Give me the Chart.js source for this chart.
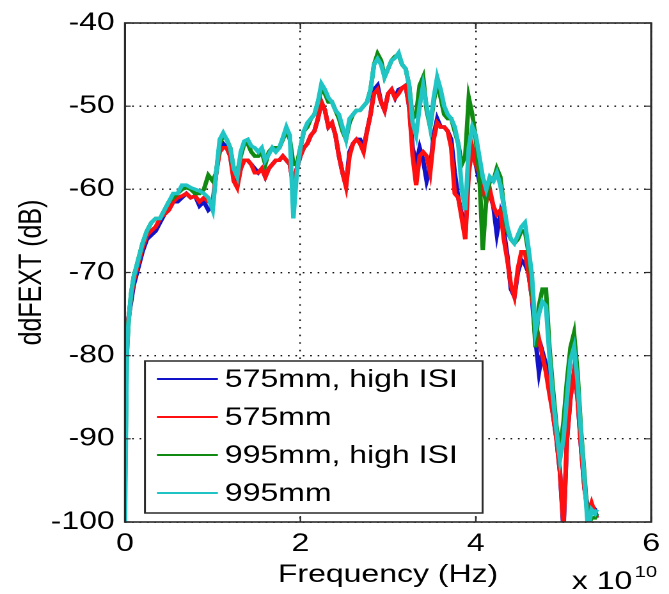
<!DOCTYPE html>
<html>
<head>
<meta charset="utf-8">
<script src="https://cdn.jsdelivr.net/npm/chart.js@4.4.0/dist/chart.umd.min.js"></script>
<style>
  html, body { margin: 0; padding: 0; background: #fff; overflow: hidden; }
  /* the source picture is stretched sideways, so the whole chart is too */
  #wrap { width: 523px; height: 594px; transform: scaleX(1.2792); transform-origin: 0 0; }
</style>
</head>
<body>
<div id="wrap"><canvas id="chart" width="523" height="594"></canvas></div>
<script>
// frequency, in units of 1e10 Hz
const freq = [0, 0.01, 0.02, 0.04, 0.07, 0.1, 0.15, 0.2, 0.25, 0.3, 0.35, 0.4, 0.45, 0.5, 0.55, 0.6, 0.65, 0.7, 0.75, 0.8, 0.85, 0.9, 0.95, 1.0,
  1.04, 1.08, 1.12, 1.16, 1.2, 1.24, 1.28, 1.32, 1.36, 1.4, 1.44, 1.48, 1.52, 1.56, 1.6, 1.64, 1.68, 1.72, 1.76, 1.8, 1.84, 1.88, 1.92, 1.96,
  2.0, 2.04, 2.08, 2.12, 2.16, 2.2, 2.24, 2.28, 2.32, 2.36, 2.4, 2.44, 2.48, 2.52, 2.56, 2.6, 2.64, 2.68, 2.72, 2.76, 2.8, 2.84, 2.88, 2.92, 2.96,
  3.0, 3.04, 3.08, 3.12, 3.16, 3.2, 3.24, 3.28, 3.32, 3.36, 3.4, 3.44, 3.48, 3.52, 3.56, 3.6, 3.64, 3.68, 3.72, 3.76, 3.8, 3.84, 3.88, 3.92, 3.96,
  4.0, 4.04, 4.08, 4.12, 4.16, 4.2, 4.24, 4.28, 4.32, 4.36, 4.4, 4.44, 4.48, 4.52, 4.56, 4.6, 4.64, 4.68, 4.72, 4.76, 4.8, 4.84, 4.88, 4.92, 4.96,
  5.0, 5.04, 5.08, 5.12, 5.16, 5.2, 5.24, 5.28, 5.32, 5.36, 5.38];

// ddFEXT in dB
const fext575Isi = [-78, -77, -76.5, -75.5, -73.5, -71.5, -69.5, -67.5, -66, -65.5, -65, -64, -63, -62.5, -61.5, -61.5, -61, -60.5, -61, -60.8, -62, -61.5, -62.5, -62,
  -58, -55, -54.5, -55, -56, -58.5, -59.5, -57.5, -56.5, -56.5, -57, -57.5, -58, -57.5, -58.5, -57.5, -57, -56.5, -56.5, -56, -56.5, -57, -59.5, -57.5,
  -56, -55, -54.5, -53.5, -53, -51.5, -49.5, -50.5, -52.5, -52, -53.5, -56, -58, -59.5, -55.5, -54.5, -54, -54, -55, -53, -51, -48, -47.5, -49.5, -50.5,
  -48.5, -48, -49, -48, -47.8, -47.5, -50, -55, -57, -55, -56.5, -59, -57.5, -53.5, -51.5, -52.5, -52.5, -53, -54, -58, -61, -63, -65.5, -57, -55.5,
  -57, -59, -60.5, -61, -60.5, -62, -65.4, -63, -65, -68, -72, -72.9, -70, -68.5, -69, -70, -73, -78, -82, -79.5, -81, -84, -87, -90, -94,
  -101, -90, -85, -82, -85, -91, -96, -98.5, -98, -98.5, -99.5];
const fext575 = [-86, -80, -77.5, -75.5, -73, -71, -69, -67, -65.5, -65, -64.5, -63.5, -63, -62.5, -61.5, -61, -60.8, -60.5, -61, -60.8, -61.5, -61, -61.5, -61.5,
  -58, -55.5, -55, -55, -56, -59, -59.8, -57.5, -56.5, -56.5, -57, -58, -58, -57.5, -58.5, -57.5, -57, -56.5, -56.5, -56, -56.5, -57, -59.5, -57.5,
  -56, -55, -54.5, -53.5, -53, -51.5, -49.5, -50.5, -52.5, -52, -53.5, -56, -58, -59.7, -56, -54.5, -54, -54.5, -55.5, -53, -51, -48.5, -48, -49.5, -50.5,
  -48.5, -48, -49, -48.5, -47.8, -47.5, -50, -56, -59.5, -56, -55.5, -56, -58, -54, -52, -52.5, -52.5, -53, -55, -60.5, -61, -63.5, -66, -58, -55,
  -57, -58, -60, -61.5, -60, -62, -63, -62.5, -66, -68.5, -71.5, -72.9, -69.5, -67.5, -67.5, -70, -73, -76, -78, -80, -82, -84.6, -87, -90, -94,
  -100.5, -90, -85, -82, -85, -91, -96, -99, -97.7, -99, -99.5];
const fext995Isi = [-96, -88, -80, -76, -72.5, -70.5, -68.5, -66.5, -65, -64, -63.5, -63.5, -62.5, -61.5, -61, -60.5, -60, -59.8, -60, -60.5, -60.5, -60, -58.3, -59,
  -58, -54.5, -53.5, -54, -55, -57.5, -58, -56, -54.5, -54.5, -55.5, -56, -56, -55.5, -57, -55.5, -55, -55, -55, -54, -53, -54, -57, -57,
  -55, -53, -52.5, -51.5, -51, -49.5, -48, -48.5, -49.5, -49.5, -50.5, -51.5, -53, -54, -52, -51, -50.5, -50.5, -50, -49.5, -48, -45, -43.7, -44.5, -46.5,
  -45.5, -44.5, -44, -43.8, -45, -45.5, -47.5, -51.5, -51, -47.5, -46.5, -50.5, -52.5, -49.5, -47, -49, -51, -51.5, -51.5, -53, -54.5, -57, -56, -49, -51,
  -54, -58, -67.3, -61, -59, -59, -57.5, -58.5, -62, -65, -66, -66.5, -66, -65, -65, -67.5, -71, -79, -74, -72, -72, -79, -84, -88.5, -91.5,
  -88, -83, -79, -77.3, -82, -89, -94.5, -100.5, -99.5, -99.5, -99];
const fext995 = [-100, -90, -80, -76, -72.5, -70.5, -68.5, -66.5, -65, -64, -63.5, -63.5, -62.5, -61.5, -60.5, -60.5, -59.5, -59.5, -59.8, -60, -60.2, -60.5, -61, -62.5,
  -58, -54, -53.2, -54, -55, -57.5, -58.5, -55.5, -54.2, -54, -54.8, -55, -55.5, -55, -56.5, -55.8, -55, -55.5, -55, -53.8, -52.5, -53.5, -63.5, -58,
  -55, -53, -52, -51.5, -51, -49.5, -47.3, -48, -49, -49.5, -50.5, -51, -52.5, -54, -51.5, -51, -50.5, -50.5, -50, -49.5, -48, -45, -44.3, -45, -46.5,
  -45.5, -44.5, -44.2, -43.6, -45, -45.5, -47.5, -52, -53.5, -50, -47.5, -50, -52.5, -49, -46.5, -48, -50, -51, -51.5, -52.5, -54.5, -60, -62.5, -55, -52.5,
  -53.5, -56, -58.5, -60, -58.5, -59, -58, -59.5, -62, -64.5, -66, -66.5, -65.5, -64.5, -64, -67, -70.3, -77, -75, -73.5, -74, -80, -85, -89, -92.5,
  -90, -85, -80.5, -79, -83, -89.4, -95, -101, -98.5, -99, -98.5];

const seriesLabels = ['575mm, high ISI', '575mm', '995mm, high ISI', '995mm'];
const seriesColors = ['#1212c8', '#ff1010', '#108a10', '#20c4c4'];
const xTicks = [0, 2, 4, 6];
const yTicks = [-100, -90, -80, -70, -60, -50, -40];

const FONT = 'Liberation Sans, Arial, Helvetica, sans-serif';
Chart.defaults.font.family = FONT;
Chart.defaults.font.size = 25;
Chart.defaults.color = '#000';

function toPoints(values) {
  return values.map(function (v, i) { return { x: freq[i], y: v }; });
}

const datasets = [fext575Isi, fext575, fext995Isi, fext995].map(function (vals, i) {
  return {
    label: seriesLabels[i],
    data: toPoints(vals),
    borderColor: seriesColors[i],
    backgroundColor: seriesColors[i],
    borderWidth: 3.5,
    pointRadius: 0,
    tension: 0,
    fill: false,
    order: 3 - i   // later series painted over earlier ones, like plot()
  };
});

/* ------------------------------------------------------ */
// box, inward tick marks and the "x 10^10" note, matlab style
const matlabFrame = {
  id: 'matlabFrame',
  afterDatasetsDraw(chart) {
    const ctx = chart.ctx;
    const a = chart.chartArea;
    const x = chart.scales.x, y = chart.scales.y;
    ctx.save();
    ctx.strokeStyle = '#2a2a2a';
    ctx.lineWidth = 1.6;
    ctx.strokeRect(a.left, a.top, a.right - a.left, a.bottom - a.top);
    ctx.lineWidth = 1.2;
    ctx.beginPath();
    xTicks.forEach(function (v) {
      const px = x.getPixelForValue(v);
      ctx.moveTo(px, a.bottom); ctx.lineTo(px, a.bottom - 6);
      ctx.moveTo(px, a.top); ctx.lineTo(px, a.top + 6);
    });
    yTicks.forEach(function (v) {
      const py = y.getPixelForValue(v);
      ctx.moveTo(a.left, py); ctx.lineTo(a.left + 4.5, py);
      ctx.moveTo(a.right, py); ctx.lineTo(a.right - 4.5, py);
    });
    ctx.stroke();

    ctx.fillStyle = '#000';
    ctx.textBaseline = 'alphabetic';
    ctx.textAlign = 'left';
    ctx.font = '25px ' + FONT;
    ctx.fillText('x 10', 447, 589);
    ctx.font = '16px ' + FONT;
    ctx.fillText('10', 496, 577);
    ctx.restore();
  }
};

/* ------------------------------------------------------ */
// legend box sitting in the lower left of the axes
const boxLegend = {
  id: 'boxLegend',
  afterDraw(chart) {
    const ctx = chart.ctx;
    const left = 113.3, right = 377.3, top = 361, bottom = 513;
    const rowY = [379, 417, 455, 493];
    ctx.save();
    ctx.fillStyle = '#fff';
    ctx.fillRect(left, top, right - left, bottom - top);
    ctx.strokeStyle = '#2a2a2a';
    ctx.lineWidth = 1.5;
    ctx.strokeRect(left, top, right - left, bottom - top);
    ctx.font = '25px ' + FONT;
    ctx.textBaseline = 'middle';
    ctx.textAlign = 'left';
    chart.data.datasets.forEach(function (ds, i) {
      ctx.strokeStyle = ds.borderColor;
      ctx.lineWidth = 2;
      ctx.beginPath();
      ctx.moveTo(122.7, rowY[i]);
      ctx.lineTo(170.3, rowY[i]);
      ctx.stroke();
      ctx.fillStyle = '#000';
      ctx.fillText(ds.label, 175.8, rowY[i] + 1);
    });
    ctx.restore();
  }
};

new Chart(document.getElementById('chart'), {
  type: 'line',
  data: { datasets: datasets },
  options: {
    responsive: false,
    animation: false,
    devicePixelRatio: 2,
    layout: { padding: { top: 19, right: 9, left: 0, bottom: 0 } },
    plugins: { legend: { display: false }, tooltip: { enabled: false } },
    scales: {
      x: {
        type: 'linear',
        min: 0, max: 6,
        afterBuildTicks: function (scale) { scale.ticks = xTicks.map(function (v) { return { value: v }; }); },
        afterFit: function (scale) { scale.height = 72; },
        ticks: { padding: 7, maxRotation: 0 },
        grid: { color: '#111', lineWidth: 1.2, drawTicks: false },
        border: { display: false, dash: [1.6, 6] },
        title: { display: true, text: 'Frequency (Hz)', padding: { top: 4, bottom: 4 } }
      },
      y: {
        type: 'linear',
        min: -100, max: -40,
        afterBuildTicks: function (scale) { scale.ticks = yTicks.map(function (v) { return { value: v }; }); },
        afterFit: function (scale) { scale.width = 97.7; },
        ticks: { padding: 8 },
        grid: { color: '#111', lineWidth: 1.4, drawTicks: false },
        border: { display: false, dash: [1.3, 4.5] },
        title: { display: true, text: 'ddFEXT (dB)', padding: { top: 10, bottom: 10 } }
      }
    }
  },
  plugins: [matlabFrame, boxLegend]
});
</script>
</body>
</html>
